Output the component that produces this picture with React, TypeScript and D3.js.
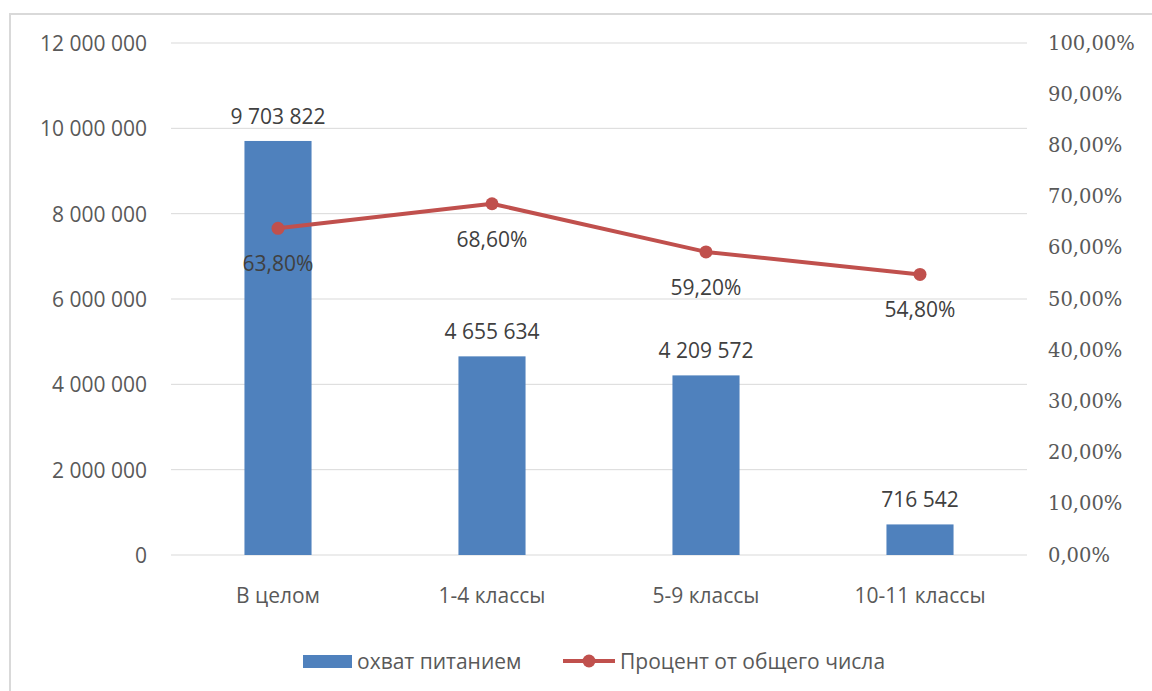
import React from "react";
import * as d3 from "d3";

// data
const categories = ["В целом", "1-4 классы", "5-9 классы", "10-11 классы"];
const coverage = [9703822, 4655634, 4209572, 716542];
const percent = [0.638, 0.686, 0.592, 0.548];
const leftTicks = [0, 2000000, 4000000, 6000000, 8000000, 10000000, 12000000];
const rightTicks = [0, 0.1, 0.2, 0.3, 0.4, 0.5, 0.6, 0.7, 0.8, 0.9, 1.0];
const seriesNames = ["охват питанием", "Процент от общего числа"];

const W = 1152;
const H = 691;
const plot = { left: 171, right: 1027, top: 43, bottom: 555 };

const ru = d3.formatLocale({
  decimal: ",",
  thousands: " ",
  grouping: [3],
  currency: ["", ""],
});
const fmtNum = ru.format(",d");
const fmtPct = ru.format(".2%");

const BAR = "#4F81BD";
const LINE = "#C0504D";
const TEXT = "#404040";
const AXIS = "#595959";
const SANS = "'Open Sans', 'Liberation Sans', sans-serif";
const SERIF = "'DejaVu Serif', 'Liberation Serif', serif";
const FS = 21;

export default function App() {
  const x = d3
    .scaleBand<string>()
    .domain(categories)
    .range([plot.left, plot.right])
    .padding(0);
  const yL = d3.scaleLinear().domain([0, 12000000]).range([plot.bottom, plot.top]);
  const yR = d3.scaleLinear().domain([0, 1]).range([plot.bottom, plot.top]);
  const barW = x.bandwidth() / 3.19;
  const cx = (c: string) => (x(c) as number) + x.bandwidth() / 2;

  const line = d3
    .line<number>()
    .x((_, i) => cx(categories[i]))
    .y((d) => yR(d));

  return (
    <svg
      width={W}
      height={H}
      style={{ position: "absolute", left: 0, top: 0, background: "#fff" }}
    >
      <rect x={10} y={14} width={W + 20} height={H + 20} fill="#fff" stroke="#D9D9D9" strokeWidth={2} />

      {/* gridlines + left axis */}
      {leftTicks.map((t) => (
        <g key={t}>
          <line x1={plot.left} x2={plot.right} y1={yL(t)} y2={yL(t)} stroke="#D9D9D9" strokeWidth={1} />
          <text
            x={147}
            y={yL(t)}
            textAnchor="end"
            dominantBaseline="central"
            fontFamily={SANS}
            fontSize={FS}
            fill={AXIS}
          >
            {fmtNum(t)}
          </text>
        </g>
      ))}

      {/* right axis */}
      {rightTicks.map((t) => (
        <text
          key={t}
          x={1048}
          y={yR(t)}
          dominantBaseline="central"
          fontFamily={SERIF}
          fontSize={19.5}
          fill={AXIS}
        >
          {fmtPct(t)}
        </text>
      ))}

      {/* bars */}
      {coverage.map((v, i) => (
        <g key={categories[i]}>
          <rect
            x={cx(categories[i]) - barW / 2}
            y={yL(v)}
            width={barW}
            height={plot.bottom - yL(v)}
            fill={BAR}
          />
          <text
            x={cx(categories[i])}
            y={yL(v) - 25}
            textAnchor="middle"
            dominantBaseline="central"
            fontFamily={SANS}
            fontSize={FS}
            fill={TEXT}
          >
            {fmtNum(v)}
          </text>
        </g>
      ))}

      {/* line */}
      <path d={line(percent) || ""} fill="none" stroke={LINE} strokeWidth={4} strokeLinejoin="round" />
      {percent.map((p, i) => (
        <g key={"p" + i}>
          <circle cx={cx(categories[i])} cy={yR(p)} r={6.5} fill={LINE} />
          <text
            x={cx(categories[i])}
            y={yR(p) + 35}
            textAnchor="middle"
            dominantBaseline="central"
            fontFamily={SANS}
            fontSize={FS}
            fill={TEXT}
          >
            {fmtPct(p)}
          </text>
        </g>
      ))}

      {/* category labels */}
      {categories.map((c) => (
        <text
          key={c}
          x={cx(c)}
          y={595}
          textAnchor="middle"
          dominantBaseline="central"
          fontFamily={SANS}
          fontSize={FS}
          fill={AXIS}
        >
          {c}
        </text>
      ))}

      {/* legend */}
      <g fontFamily={SANS} fontSize={FS} fill={AXIS}>
        <rect x={303} y={655} width={49} height={13} fill={BAR} />
        <text x={357} y={661} dominantBaseline="central">
          {seriesNames[0]}
        </text>
        <line x1={563} x2={615} y1={661} y2={661} stroke={LINE} strokeWidth={4} />
        <circle cx={589} cy={661} r={6.5} fill={LINE} />
        <text x={620} y={661} dominantBaseline="central">
          {seriesNames[1]}
        </text>
      </g>
    </svg>
  );
}
